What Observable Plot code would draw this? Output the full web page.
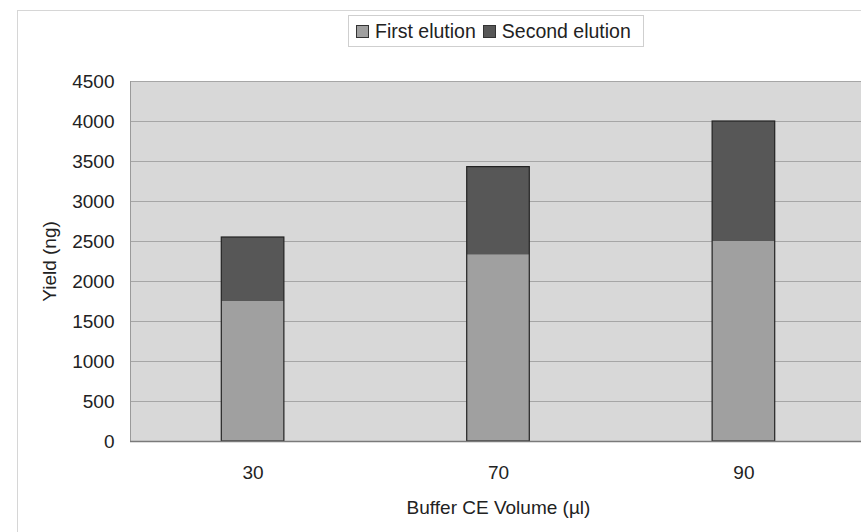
<!DOCTYPE html>
<html>
<head>
<meta charset="utf-8">
<script src="https://cdn.jsdelivr.net/npm/d3@7"></script>
<script src="https://cdn.jsdelivr.net/npm/@observablehq/plot@0.6"></script>
<style>
  html, body { margin: 0; padding: 0; background: #fff; overflow: hidden; }
  #wrap { position: relative; width: 861px; height: 532px; overflow: hidden; font-family: "Liberation Sans", Arial, sans-serif; }
  #border { position: absolute; left: 17px; top: 10px; width: 900px; height: 600px; border-left: 1px solid #d6d6d6; border-top: 1px solid #d6d6d6; }
  #legend { position: absolute; left: 348px; top: 15px; width: 296px; height: 32px; border: 1px solid #cfcfcf; background: #fff; box-sizing: border-box; display: flex; align-items: center; font-size: 19.5px; color: #222; white-space: nowrap; }
  .sw { display: inline-block; width: 11px; height: 11px; border: 1px solid #333; margin: 0 6px 0 7px; }
  #chart { position: absolute; left: 0; top: 0; width: 866px; }
  #chart svg { max-width: none !important; }
</style>
</head>
<body>
<div id="wrap">
  <div id="border"></div>
  <div id="chart"></div>
  <div id="legend"></div>
</div>
<script>
const categories = ["30", "70", "90"];
const seriesNames = ["First elution", "Second elution"];
const firstElution = [1750, 2330, 2500];
const secondElution = [800, 1100, 1500];
const yTicks = [0, 500, 1000, 1500, 2000, 2500, 3000, 3500, 4000, 4500];
const colors = ["#a0a0a0", "#575757"];

const rows = [];
categories.forEach((c, i) => {
  rows.push({cat: c, series: seriesNames[0], value: firstElution[i]});
  rows.push({cat: c, series: seriesNames[1], value: secondElution[i]});
});
const totals = categories.map((c, i) => ({cat: c, value: firstElution[i] + secondElution[i]}));

const chart = Plot.plot({
  width: 866,
  height: 532,
  marginTop: 81,
  marginBottom: 91,
  marginLeft: 130,
  marginRight: 0,
  style: {fontFamily: "Liberation Sans, Arial, sans-serif", fontSize: "19px", color: "#222", background: "transparent", maxWidth: "none"},
  x: {domain: categories, paddingInner: 0.745, paddingOuter: 0.372, round: false},
  y: {domain: [0, 4500]},
  color: {domain: seriesNames, range: colors},
  marks: [
    Plot.frame({fill: "#d8d8d8", stroke: null}),
    Plot.gridY(yTicks, {stroke: "#a6a6a6", strokeOpacity: 1, strokeWidth: 1}),
    Plot.frame({anchor: "left", stroke: "#9a9a9a", strokeOpacity: 1}),
    Plot.barY(rows, {x: "cat", y: "value", fill: "series", order: seriesNames, inset: 0}),
    Plot.barY(totals, {x: "cat", y: "value", fill: "none", stroke: "#222", strokeWidth: 1.2, inset: 0}),
    Plot.ruleY([0], {stroke: "#7a7a7a", strokeWidth: 1.5}),
    Plot.axisY({ticks: yTicks, tickFormat: d => String(d), tickSize: 0, tickPadding: 16, label: "Yield (ng)", labelAnchor: "center", labelOffset: 88, labelArrow: "none"}),
    Plot.axisX({tickSize: 0, tickPadding: 24, label: "Buffer CE Volume (µl)", labelAnchor: "center", labelOffset: 72, labelArrow: "none"})
  ]
});
chart.style.maxWidth = "none";
document.getElementById("chart").appendChild(chart);

const legend = document.getElementById("legend");
seriesNames.forEach((name, i) => {
  const sw = document.createElement("span");
  sw.className = "sw";
  sw.style.background = colors[i];
  legend.appendChild(sw);
  const t = document.createElement("span");
  t.textContent = name;
  legend.appendChild(t);
});
</script>
</body>
</html>
